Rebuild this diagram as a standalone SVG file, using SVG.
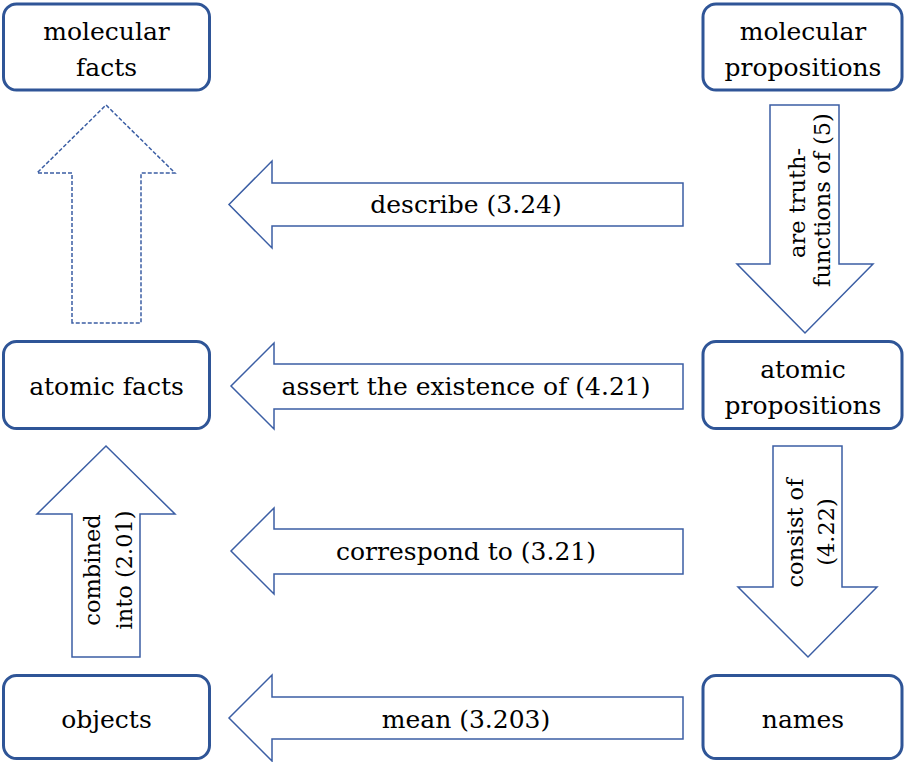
<svg xmlns="http://www.w3.org/2000/svg" width="908" height="762" viewBox="0 0 908 762">
<style>
.box{fill:#fff;stroke:#2f5597;stroke-width:3}
.arr{fill:#fff;stroke:#3b5ea4;stroke-width:1.5;stroke-linejoin:miter}
.dash{stroke-dasharray:4 2}
text{font-family:"DejaVu Serif","Liberation Serif",serif;fill:#000}
.t{font-size:25px;text-anchor:middle}
.v{font-size:22.5px;text-anchor:middle}
</style>
<rect width="908" height="762" fill="#fff"/>
<g id="connectors">
  <g id="c-mf-am">
    <path class="arr dash" d="M72,323 L72,173 L37,173 L106,105 L175,173 L141,173 L141,323 Z"/>
  </g>
  <g id="c-describe">
    <path class="arr" d="M683,183 L272,183 L272,161 L229,204.5 L272,248 L272,226 L683,226 Z"/>
    <text class="t" x="466" y="213">describe (3.24)</text>
  </g>
  <g id="c-truth">
    <path class="arr" d="M770,105 L839,105 L839,264 L873,264 L805,333 L737,264 L770,264 Z"/>
    <text class="v" transform="translate(805,203) rotate(-90)">are truth-</text>
    <text class="v" transform="translate(830,200) rotate(-90)">functions of (5)</text>
  </g>
  <g id="c-assert">
    <path class="arr" d="M683,364 L274,364 L274,343 L231,386 L274,429 L274,409 L683,409 Z"/>
    <text class="t" x="466" y="395">assert the existence of (4.21)</text>
  </g>
  <g id="c-consist">
    <path class="arr" d="M773,446 L842,446 L842,587 L877,587 L808,657 L738,587 L773,587 Z"/>
    <text class="v" transform="translate(803,533) rotate(-90)">consist of</text>
    <text class="v" transform="translate(834,532) rotate(-90)">(4.22)</text>
  </g>
  <g id="c-correspond">
    <path class="arr" d="M683,529 L274,529 L274,508 L231,551 L274,594 L274,574 L683,574 Z"/>
    <text class="t" x="466" y="560">correspond to (3.21)</text>
  </g>
  <g id="c-combined">
    <path class="arr" d="M72,657 L72,514 L37,514 L106,446 L175,514 L140,514 L140,657 Z"/>
    <text class="v" transform="translate(100,570) rotate(-90)">combined</text>
    <text class="v" transform="translate(132,570) rotate(-90)">into (2.01)</text>
  </g>
  <g id="c-mean">
    <path class="arr" d="M683,697 L272,697 L272,675 L229,718 L272,761 L272,739 L683,739 Z"/>
    <text class="t" x="466" y="728">mean (3.203)</text>
  </g>
</g>
<g id="molecular-facts">
  <rect class="box" x="3.5" y="4" width="206" height="86" rx="13"/>
  <text class="t" x="106.5" y="40">molecular</text>
  <text class="t" x="106.5" y="76">facts</text>
</g>
<g id="molecular-propositions">
  <rect class="box" x="703" y="4" width="199" height="86" rx="13"/>
  <text class="t" x="803" y="40">molecular</text>
  <text class="t" x="803" y="76">propositions</text>
</g>
<g id="atomic-facts">
  <rect class="box" x="3.5" y="341.5" width="206" height="87" rx="13"/>
  <text class="t" x="106.5" y="395">atomic facts</text>
</g>
<g id="atomic-propositions">
  <rect class="box" x="703" y="341.5" width="199" height="87" rx="13"/>
  <text class="t" x="803" y="378">atomic</text>
  <text class="t" x="803" y="414">propositions</text>
</g>
<g id="objects">
  <rect class="box" x="3.5" y="675.5" width="206" height="83" rx="13"/>
  <text class="t" x="106.5" y="728">objects</text>
</g>
<g id="names">
  <rect class="box" x="703" y="675.5" width="199" height="83" rx="13"/>
  <text class="t" x="803" y="728">names</text>
</g>
</svg>
